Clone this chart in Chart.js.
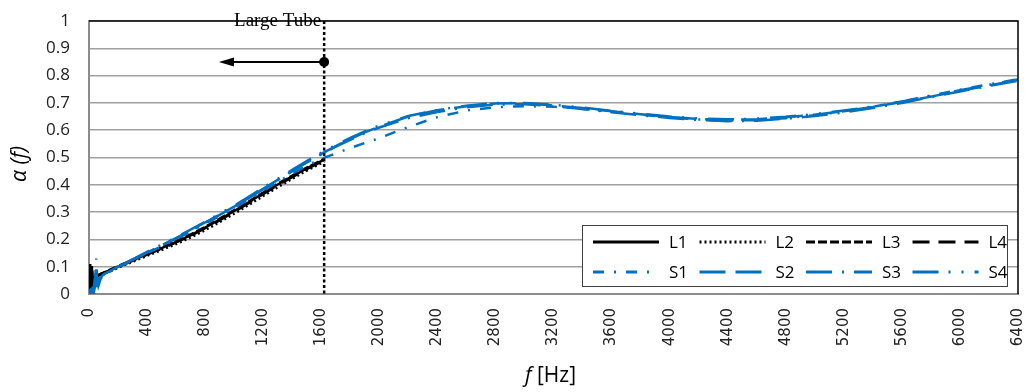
<!DOCTYPE html>
<html>
<head>
<meta charset="utf-8">
<title>Absorption coefficient</title>
<script src="https://cdn.jsdelivr.net/npm/chart.js@4.4.1/dist/chart.umd.min.js"></script>
<style>
  html, body { margin: 0; padding: 0; background: #fff; }
  #wrap { width: 1030px; height: 392px; }
</style>
</head>
<body>
<div id="wrap"><canvas id="alphaChart" width="1030" height="392"></canvas></div>
<script>
// Data
const lFreq = [0, 8, 14, 20, 26, 32, 40, 55, 75, 100, 150, 200, 300, 400, 500, 600, 700, 800, 900, 1000, 1100, 1200, 1300, 1400, 1500, 1600, 1620];
const l1 = [0.02, 0.11, 0.03, 0.1, 0.02, 0.05, 0.06, 0.066, 0.072, 0.077, 0.088, 0.1, 0.123, 0.146, 0.168, 0.191, 0.215, 0.243, 0.273, 0.304, 0.336, 0.369, 0.401, 0.431, 0.46, 0.487, 0.492];
const l2 = [0.0, 0.08, 0.02, 0.09, 0.0, 0.04, 0.055, 0.062, 0.069, 0.074, 0.084, 0.096, 0.118, 0.14, 0.161, 0.183, 0.207, 0.234, 0.263, 0.294, 0.326, 0.359, 0.391, 0.422, 0.452, 0.479, 0.484];
const l3 = [0.01, 0.1, 0.05, 0.08, 0.01, 0.06, 0.062, 0.067, 0.073, 0.078, 0.09, 0.102, 0.125, 0.148, 0.171, 0.194, 0.218, 0.246, 0.276, 0.307, 0.339, 0.372, 0.404, 0.434, 0.463, 0.49, 0.495];
const l4 = [0.03, 0.09, 0.0, 0.11, 0.03, 0.03, 0.058, 0.064, 0.07, 0.076, 0.087, 0.099, 0.121, 0.144, 0.166, 0.189, 0.213, 0.241, 0.27, 0.301, 0.333, 0.366, 0.398, 0.428, 0.457, 0.484, 0.489];

const sFreq = [0, 20, 35, 45, 50, 55, 65, 80, 100, 150, 200, 300, 400, 500, 600, 700, 800, 900, 1000, 1100, 1200, 1300, 1400, 1500, 1600, 1700, 1800, 1900, 2000,
  2200, 2400, 2600, 2800, 3000, 3200, 3400, 3600, 3800, 4000, 4200, 4400, 4600, 4800, 5000, 5200, 5400, 5600, 5800, 6000, 6200, 6400];
const s1 = [0.01, 0.02, 0.0, 0.05, 0.02, 0.04, 0.05, 0.065, 0.07, 0.084, 0.098,
  0.123, 0.149, 0.175, 0.201, 0.229, 0.257, 0.286, 0.315, 0.346, 0.378, 0.41, 0.441, 0.47, 0.495,
  0.515, 0.535, 0.553, 0.571,
  0.612, 0.648, 0.672, 0.684, 0.688, 0.686, 0.678, 0.668, 0.657, 0.647, 0.639, 0.635, 0.637, 0.644, 0.655, 0.669, 0.686, 0.705, 0.727, 0.748, 0.768, 0.787];
const s2 = [0.0, 0.0, 0.02, 0.06, 0.04, 0.03, 0.04, 0.06, 0.072, 0.086, 0.1,
  0.126, 0.152, 0.178, 0.205, 0.233, 0.262, 0.291, 0.32, 0.352, 0.385, 0.418, 0.451, 0.483, 0.513,
  0.542, 0.568, 0.592, 0.613,
  0.65, 0.673, 0.688, 0.698, 0.699, 0.691, 0.681, 0.669, 0.658, 0.648, 0.641, 0.638, 0.64, 0.647, 0.657, 0.67, 0.685, 0.703, 0.723, 0.744, 0.764, 0.784];
const s3 = [0.0, 0.01, 0.03, 0.08, 0.13, 0.06, 0.03, 0.055, 0.07, 0.085, 0.1,
  0.125, 0.151, 0.177, 0.204, 0.232, 0.261, 0.29, 0.32, 0.351, 0.384, 0.417, 0.45, 0.482, 0.511,
  0.54, 0.565, 0.589, 0.61,
  0.644, 0.667, 0.684, 0.694, 0.695, 0.688, 0.678, 0.666, 0.655, 0.645, 0.637, 0.633, 0.635, 0.642, 0.652, 0.665, 0.681, 0.7, 0.721, 0.742, 0.762, 0.781];
const s4 = [0.0, 0.0, 0.01, 0.04, 0.06, 0.05, 0.04, 0.058, 0.071, 0.087, 0.101,
  0.127, 0.154, 0.181, 0.208, 0.236, 0.265, 0.294, 0.324, 0.356, 0.389, 0.422, 0.455, 0.487, 0.517,
  0.546, 0.572, 0.596, 0.617,
  0.652, 0.674, 0.69, 0.7, 0.7, 0.693, 0.683, 0.671, 0.66, 0.65, 0.643, 0.64, 0.642, 0.649, 0.659, 0.672, 0.687, 0.705, 0.725, 0.746, 0.766, 0.786];

const xTicks = [0, 400, 800, 1200, 1600, 2000, 2400, 2800, 3200, 3600, 4000, 4400, 4800, 5200, 5600, 6000, 6400];
const yTicks = [0, 0.1, 0.2, 0.3, 0.4, 0.5, 0.6, 0.7, 0.8, 0.9, 1];

// Large tube limit marker
const tubeLimit = 1620;
const arrowLevel = 0.85;
const arrowTip = 895;

const BLACK = '#000000';
const BLUE = '#0070C0';

function toPoints(freq, vals) {
  return freq.map((f, i) => ({ x: f, y: vals[i] }));
}

function series(label, freq, vals, color, dash, order) {
  return {
    label,
    data: toPoints(freq, vals),
    borderColor: color,
    backgroundColor: color,
    borderWidth: 2.5,
    borderDash: dash,
    pointRadius: 0,
    tension: 0,
    order
  };
}

const datasets = [
  series('L1', lFreq, l1, BLACK, [], 2),
  series('L2', lFreq, l2, BLACK, [2, 3], 2),
  series('L3', lFreq, l3, BLACK, [9, 3], 2),
  series('L4', lFreq, l4, BLACK, [17, 9], 2),
  series('S1', sFreq, s1, BLUE, [11, 10, 2, 10], 1),
  series('S2', sFreq, s2, BLUE, [26, 10], 1),
  series('S3', sFreq, s3, BLUE, [26, 10, 2, 10], 1),
  series('S4', sFreq, s4, BLUE, [26, 10, 2, 11, 2, 11], 1)
];

// Frame, tube marker, legend box and axis titles
const extrasPlugin = {
  id: 'extras',
  afterDatasetsDraw(chart) {
    const { ctx, chartArea: area, scales: { x, y } } = chart;
    ctx.save();

    // top and right edge of plot area
    ctx.strokeStyle = '#000';
    ctx.lineWidth = 1.5;
    ctx.beginPath();
    ctx.moveTo(area.left, area.top);
    ctx.lineTo(area.right, area.top);
    ctx.lineTo(area.right, area.bottom);
    ctx.stroke();

    // dotted limit line
    const vx = x.getPixelForValue(tubeLimit);
    ctx.lineWidth = 2.5;
    ctx.setLineDash([3, 2.5]);
    ctx.beginPath();
    ctx.moveTo(vx, y.getPixelForValue(1));
    ctx.lineTo(vx, y.getPixelForValue(0));
    ctx.stroke();
    ctx.setLineDash([]);

    // arrow pointing left
    const ay = y.getPixelForValue(arrowLevel);
    const tipX = x.getPixelForValue(arrowTip);
    ctx.lineWidth = 2;
    ctx.beginPath();
    ctx.moveTo(vx, ay);
    ctx.lineTo(tipX + 12, ay);
    ctx.stroke();
    ctx.fillStyle = '#000';
    ctx.beginPath();
    ctx.moveTo(tipX, ay);
    ctx.lineTo(tipX + 15, ay - 4.5);
    ctx.lineTo(tipX + 15, ay + 4.5);
    ctx.closePath();
    ctx.fill();
    ctx.beginPath();
    ctx.arc(vx, ay, 5, 0, Math.PI * 2);
    ctx.fill();

    // label
    ctx.font = '19px "Liberation Serif"';
    ctx.textAlign = 'right';
    ctx.textBaseline = 'middle';
    ctx.fillText('Large Tube', vx - 3, area.top);

    // legend box in the lower right corner
    const boxW = 425, boxH = 61;
    const bx = area.right - 436, by = area.bottom - 69;
    ctx.fillStyle = '#fff';
    ctx.fillRect(bx, by, boxW, boxH);
    ctx.strokeStyle = '#404040';
    ctx.lineWidth = 1;
    ctx.strokeRect(bx + 0.5, by + 0.5, boxW, boxH);
    ctx.font = '17px "Open Sans"';
    ctx.textAlign = 'left';
    chart.data.datasets.forEach((ds, i) => {
      const col = i % 4, row = Math.floor(i / 4);
      const sx = bx + 11 + col * 106.5;
      const sy = by + 17 + row * 30;
      ctx.strokeStyle = ds.borderColor;
      ctx.lineWidth = ds.borderWidth + 0.5;
      ctx.setLineDash(ds.borderDash);
      ctx.beginPath();
      ctx.moveTo(sx, sy);
      ctx.lineTo(sx + 66, sy);
      ctx.stroke();
      ctx.setLineDash([]);
      ctx.fillStyle = '#000';
      ctx.fillText(ds.label, sx + 76, sy + 1);
    });
    ctx.restore();
  },
  afterDraw(chart) {
    const { ctx, chartArea: area } = chart;
    ctx.save();
    ctx.fillStyle = '#000';
    ctx.textBaseline = 'middle';

    // x title: italic f plus [Hz]
    const italic = 'italic 21px "Open Sans"';
    const plain = '21px "Open Sans"';
    ctx.font = italic;
    const w1 = ctx.measureText('f').width;
    ctx.font = plain;
    const w2 = ctx.measureText(' [Hz]').width;
    const cx = (area.left + area.right) / 2 - 3;
    let tx = cx - (w1 + w2) / 2;
    ctx.font = italic;
    ctx.textAlign = 'left';
    ctx.fillText('f', tx, 376);
    ctx.font = plain;
    ctx.fillText(' [Hz]', tx + w1, 376);

    // y title
    ctx.translate(20, 164);
    ctx.rotate(-Math.PI / 2);
    ctx.font = 'italic 21px "Open Sans"';
    ctx.textAlign = 'center';
    ctx.fillText('α (f)', 0, 0);
    ctx.restore();
  }
};

const chart = new Chart(document.getElementById('alphaChart'), {
  type: 'line',
  data: { datasets },
  options: {
    responsive: false,
    animation: false,
    layout: { padding: { top: 21, right: 12, left: 0, bottom: 0 } },
    plugins: {
      legend: { display: false },
      tooltip: { enabled: false }
    },
    scales: {
      x: {
        type: 'linear',
        min: 0,
        max: 6400,
        afterBuildTicks: scale => { scale.ticks = xTicks.map(v => ({ value: v })); },
        afterFit: scale => {
          scale.height = 98;
          scale.paddingLeft = 0;
          scale.paddingRight = 0;
        },
        grid: { display: false, drawTicks: false },
        border: { display: true, color: '#8c8c8c', width: 2 },
        ticks: {
          autoSkip: false,
          minRotation: 90,
          maxRotation: 90,
          padding: 14,
          color: '#222',
          font: { family: '"DejaVu Sans"', size: 15 },
          callback: v => String(v)
        }
      },
      y: {
        min: 0,
        max: 1,
        afterBuildTicks: scale => { scale.ticks = yTicks.map(v => ({ value: v })); },
        afterFit: scale => {
          scale.width = 89;
          scale.paddingTop = 0;
          scale.paddingBottom = 0;
        },
        grid: { color: '#a0a0a0', lineWidth: 1.5, drawTicks: false },
        border: { display: true, color: '#8c8c8c', width: 2 },
        ticks: {
          padding: 19,
          color: '#222',
          font: { family: '"Open Sans"', size: 17 },
          callback: v => String(+v.toFixed(1))
        }
      }
    }
  },
  plugins: [extrasPlugin]
});
</script>
</body>
</html>
